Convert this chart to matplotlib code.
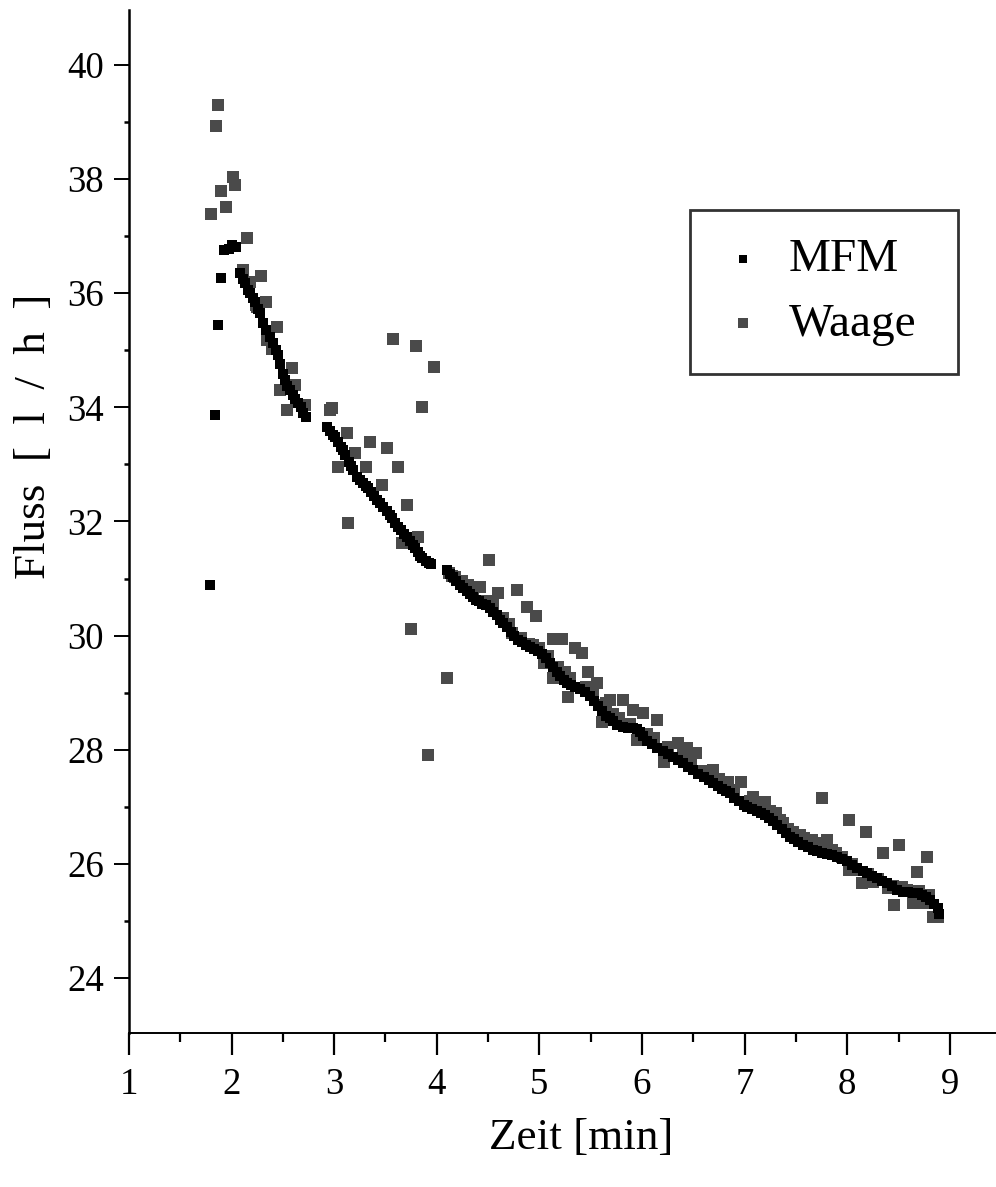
import matplotlib
matplotlib.use("Agg")
import matplotlib.pyplot as plt
from matplotlib.ticker import MultipleLocator

plt.rcParams["font.family"] = ["Liberation Serif", "DejaVu Serif"]

# ── data ──────────────────────────────────────────────────────────────────────

mfm_t = [1.79, 1.84, 1.87, 1.90, 1.93, 1.97, 2.00, 2.04,
         2.08, 2.11, 2.13, 2.16, 2.18, 2.21, 2.23, 2.26, 2.28, 2.31, 2.34, 2.37,
         2.40, 2.43, 2.45, 2.47, 2.50, 2.52, 2.54, 2.57, 2.60, 2.62, 2.65, 2.68,
         2.70, 2.73,
         2.93, 2.96, 2.99, 3.01, 3.04, 3.07, 3.09, 3.11, 3.14, 3.16, 3.18, 3.22,
         3.25, 3.28, 3.31, 3.33, 3.36, 3.39, 3.42, 3.45, 3.48, 3.51, 3.54, 3.56,
         3.59, 3.62, 3.65, 3.68, 3.71, 3.74, 3.77, 3.79, 3.82, 3.84, 3.86, 3.89,
         3.92, 3.94,
         4.10, 4.13, 4.16, 4.19, 4.23, 4.26, 4.29, 4.32, 4.35, 4.38, 4.41, 4.44,
         4.48, 4.52, 4.55, 4.59, 4.62, 4.65, 4.68, 4.72, 4.75, 4.79, 4.83, 4.87,
         4.91, 4.95, 4.99, 5.03, 5.06, 5.10, 5.13, 5.17, 5.20, 5.24, 5.27, 5.31,
         5.35, 5.40, 5.44, 5.49, 5.53, 5.57, 5.61, 5.65, 5.69, 5.72, 5.76, 5.81,
         5.86, 5.91, 5.95, 5.98, 6.01, 6.05, 6.10, 6.15, 6.20, 6.25, 6.30, 6.35,
         6.40, 6.45, 6.50, 6.55, 6.60, 6.65, 6.69, 6.74, 6.78, 6.82, 6.86, 6.90,
         6.95, 6.99, 7.02, 7.07, 7.12, 7.16, 7.20, 7.24, 7.28, 7.32, 7.36, 7.40,
         7.44, 7.48, 7.52, 7.57, 7.62, 7.67, 7.71, 7.75, 7.80, 7.85, 7.90, 7.95,
         8.00, 8.05, 8.10, 8.15, 8.19, 8.24, 8.29, 8.34, 8.39, 8.44, 8.49, 8.54,
         8.59, 8.64, 8.69, 8.73, 8.77, 8.81, 8.85, 8.88, 8.89]
mfm_q = [30.88, 33.87, 35.44, 36.27, 36.75, 36.78, 36.85, 36.80,
         36.35, 36.25, 36.18, 36.05, 36.00, 35.92, 35.85, 35.72, 35.65, 35.48, 35.35, 35.23,
         35.12, 35.00, 34.92, 34.75, 34.58, 34.48, 34.38, 34.30, 34.22, 34.15, 34.08, 34.00,
         33.90, 33.83,
         33.66, 33.58, 33.52, 33.48, 33.40, 33.30, 33.25, 33.17, 33.05, 32.97, 32.90, 32.78,
         32.72, 32.68, 32.62, 32.58, 32.52, 32.45, 32.38, 32.32, 32.25, 32.18, 32.12, 32.06,
         31.98, 31.90, 31.85, 31.78, 31.72, 31.65, 31.58, 31.53, 31.46, 31.40, 31.36, 31.31,
         31.28, 31.25,
         31.15, 31.08, 31.02, 30.96, 30.89, 30.83, 30.78, 30.73, 30.68, 30.63, 30.60, 30.56,
         30.53, 30.48, 30.42, 30.36, 30.28, 30.22, 30.15, 30.07, 30.00, 29.93, 29.88, 29.84,
         29.80, 29.76, 29.73, 29.68, 29.60, 29.52, 29.45, 29.37, 29.30, 29.23, 29.17, 29.13,
         29.10, 29.07, 29.02, 28.95, 28.86, 28.76, 28.68, 28.60, 28.55, 28.50, 28.44, 28.40,
         28.38, 28.38, 28.37, 28.32, 28.24, 28.16, 28.10, 28.04, 27.98, 27.93, 27.87, 27.82,
         27.76, 27.70, 27.64, 27.58, 27.52, 27.47, 27.42, 27.36, 27.31, 27.28, 27.24, 27.16,
         27.10, 27.04, 27.00, 26.96, 26.93, 26.89, 26.85, 26.81, 26.76, 26.69, 26.61, 26.54,
         26.48, 26.43, 26.38, 26.33, 26.29, 26.24, 26.22, 26.20, 26.18, 26.16, 26.12, 26.09,
         26.05, 25.99, 25.93, 25.88, 25.84, 25.79, 25.75, 25.70, 25.66, 25.61, 25.55, 25.50,
         25.50, 25.49, 25.49, 25.46, 25.42, 25.37, 25.30, 25.23, 25.12]

waage_t = [1.87, 1.85, 2.01, 2.03, 1.90, 1.95, 1.80, 2.15, 2.11, 2.29, 2.18, 2.34,
           2.24, 2.25, 2.44, 2.35, 2.39, 2.59, 2.47, 2.62, 2.54, 2.72, 2.96, 2.98,
           3.12, 3.35, 3.51, 3.20, 3.04, 3.31, 3.62, 3.57, 3.80, 3.97, 3.86, 3.47,
           3.71, 3.13, 3.66, 3.82, 3.75, 4.10, 3.91,
           4.12, 4.15, 4.18, 4.25, 4.30, 4.35, 4.42, 4.48, 4.51, 4.55, 4.60, 4.65,
           4.70, 4.73, 4.78, 4.82, 4.88, 4.90, 4.94, 4.97, 5.00, 5.04, 5.08, 5.13,
           5.13, 5.18, 5.22, 5.25, 5.28, 5.30, 5.35, 5.42, 5.45, 5.47, 5.52, 5.56,
           5.61, 5.62, 5.65, 5.69, 5.72, 5.78, 5.81, 5.88, 5.91, 5.95, 6.01, 6.05,
           6.12, 6.15, 6.21, 6.25, 6.35, 6.40, 6.44, 6.48, 6.53, 6.60, 6.69, 6.75,
           6.84, 6.90, 6.96, 7.05, 7.08, 7.15, 7.20, 7.25, 7.31, 7.34, 7.37, 7.42,
           7.47, 7.54, 7.58, 7.61, 7.66, 7.70, 7.74, 7.75, 7.80, 7.85, 7.89, 7.95,
           8.02, 8.02, 8.05, 8.09, 8.14, 8.18, 8.20, 8.25, 8.30, 8.35, 8.40, 8.45,
           8.46, 8.50, 8.53, 8.58, 8.64, 8.68, 8.70, 8.74, 8.78, 8.80, 8.84, 8.88]
waage_q = [39.30, 38.93, 38.04, 37.90, 37.79, 37.51, 37.39, 36.97, 36.41, 36.30, 36.20, 35.85,
           35.79, 35.76, 35.41, 35.18, 35.02, 34.69, 34.30, 34.39, 33.95, 34.04, 33.95, 33.99,
           33.55, 33.39, 33.29, 33.20, 32.95, 32.95, 32.95, 35.20, 35.08, 34.71, 34.01, 32.64,
           32.29, 31.97, 31.62, 31.73, 30.12, 29.26, 27.91,
           31.10, 31.05, 31.03, 30.95, 30.89, 30.75, 30.86, 30.60, 31.33, 30.55, 30.75, 30.30,
           30.20, 30.05, 30.80, 29.95, 30.50, 29.85, 29.83, 30.34, 29.78, 29.52, 29.65, 29.94,
           29.26, 29.45, 29.94, 29.36, 28.92, 29.25, 29.78, 29.70, 29.10, 29.36, 29.00, 29.17,
           28.49, 28.78, 28.82, 28.87, 28.62, 28.55, 28.87, 28.45, 28.70, 28.17, 28.64, 28.28,
           28.20, 28.52, 27.78, 28.05, 28.12, 27.90, 28.03, 27.82, 27.94, 27.62, 27.64, 27.48,
           27.43, 27.30, 27.43, 27.10, 27.17, 27.02, 27.08, 26.92, 26.89, 26.77, 26.72, 26.62,
           26.56, 26.51, 26.45, 26.42, 26.42, 26.35, 26.37, 27.15, 26.42, 26.25, 26.19, 26.12,
           26.77, 25.89, 26.00, 25.89, 25.66, 26.56, 25.82, 25.68, 25.74, 26.19, 25.58, 25.62,
           25.28, 26.33, 25.59, 25.55, 25.31, 25.86, 25.52, 25.31, 26.12, 25.45, 25.07, 25.07]

# ── figure ────────────────────────────────────────────────────────────────────

fig = plt.figure(figsize=(9.96, 11.87), dpi=100)
fig.patch.set_facecolor("white")
ax = fig.add_axes([0.1295, 0.1298, 0.8705, 0.8618])

ax.scatter(waage_t, waage_q, marker="s", s=8.5 ** 2, color="#4a4a4a",
           linewidths=0, label="Waage", zorder=2)
ax.scatter(mfm_t, mfm_q, marker="s", s=7 ** 2, color="black",
           linewidths=0, label="MFM", zorder=3)

ax.set_xlim(1, 9.45)
ax.set_ylim(23.04, 40.96)

ax.spines["top"].set_visible(False)
ax.spines["right"].set_visible(False)
ax.spines["left"].set_linewidth(1.8)
ax.spines["bottom"].set_linewidth(1.4)

ax.xaxis.set_major_locator(MultipleLocator(1))
ax.xaxis.set_minor_locator(MultipleLocator(0.5))
ax.yaxis.set_major_locator(MultipleLocator(2))
ax.yaxis.set_minor_locator(MultipleLocator(1))

ax.tick_params(axis="x", which="major", direction="out", length=16, width=1.6,
               labelsize=26.5, pad=9)
ax.tick_params(axis="x", which="minor", direction="out", length=6.5, width=1.6)
ax.tick_params(axis="y", which="major", direction="out", length=11, width=1.4,
               labelsize=26.5, pad=7)
ax.tick_params(axis="y", which="minor", direction="out", length=3.6, width=1.8)

ax.set_xlabel("Zeit [min]", fontsize=32.5)
ax.xaxis.set_label_coords(0.522, -0.083)
ax.set_ylabel("Fluss  [  l  /  h  ]", fontsize=32.5)
ax.yaxis.set_label_coords(-0.087, 0.583)

handles, labels = ax.get_legend_handles_labels()
leg = ax.legend(handles[::-1], labels[::-1], loc="upper left",
                bbox_to_anchor=(0.647, 0.643, 0.309, 0.1615), mode="expand",
                borderaxespad=0, fontsize=34, frameon=True, fancybox=False,
                handlelength=1.04, handletextpad=0.46, labelspacing=0.45,
                borderpad=0.6, markerscale=0.9)
leg.get_frame().set_edgecolor("black")
leg.get_frame().set_linewidth(2.0)

fig.savefig("out.png", dpi=100, facecolor="white")
